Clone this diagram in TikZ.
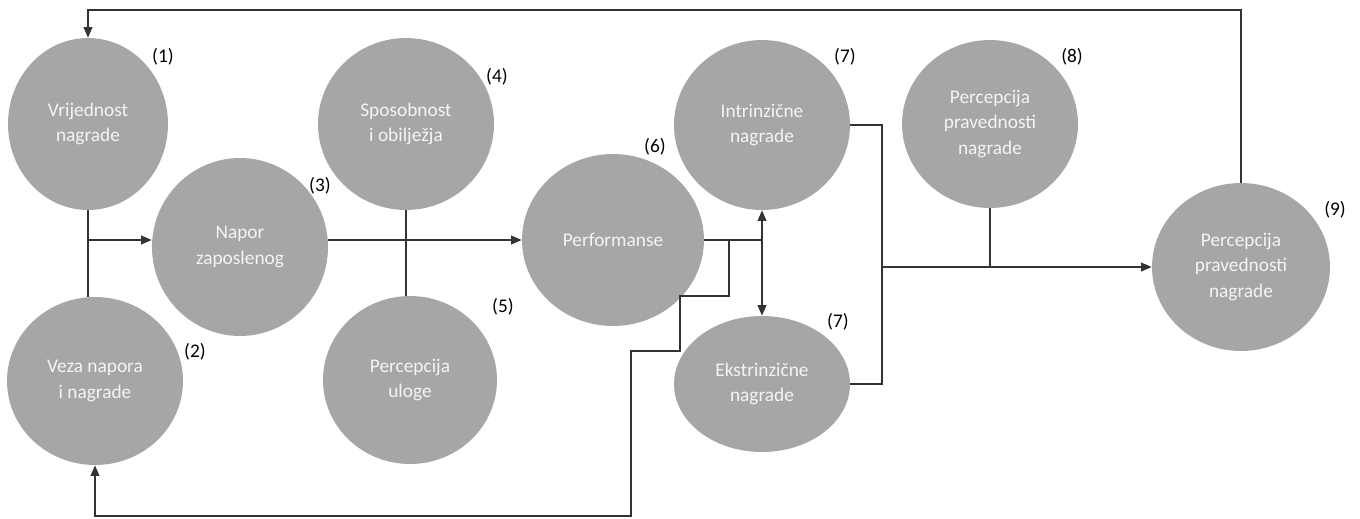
\documentclass[tikz,border=0pt]{standalone}
\usepackage{fontspec}
\setmainfont{Carlito}
\usetikzlibrary{arrows.meta,shapes.geometric,positioning}
\definecolor{krugsiva}{HTML}{A6A6A6}
\definecolor{krugtekst}{HTML}{F4F4F4}

\begin{document}
\begin{tikzpicture}[x=0.02cm,y=-0.02cm,
        krug/.style={ellipse,fill=krugsiva,text=krugtekst,align=center,inner sep=0pt,
            minimum width=3.52cm,minimum height=3.4cm,font=\fontsize{11}{14.5}\selectfont},
        broj/.style={font=\fontsize{11}{13}\selectfont,text=black},
        linija/.style={draw=black!80,line width=0.7pt},
        >={Triangle[length=6pt,width=5pt]}]
    \useasboundingbox (0,0) rectangle (1360,518);

    \node[krug,minimum width=3.2cm,minimum height=3.44cm] (vrij) at (88,124) {Vrijednost\\nagrade};
    \node[krug,minimum height=3.36cm] (veza) at (95,381) {Veza napora\\i nagrade};
    \node[krug,minimum height=3.56cm] (napor) at (240,247) {Napor\\zaposlenog};
    \node[krug,minimum height=3.44cm] (spos) at (406,124) {Sposobnost\\i obilježja};
    \node[krug,minimum width=3.48cm,minimum height=3.36cm] (uloga) at (410,380) {Percepcija\\uloge};
    \node[krug,minimum width=3.64cm,minimum height=3.44cm] (perf) at (613,240) {Performanse};
    \node[krug] (intr) at (762,125) {Intrinzične\\nagrade};
    \node[krug,minimum height=2.72cm] (ekst) at (762,384) {Ekstrinzične\\nagrade};
    \node[krug,minimum height=3.36cm] (pp8) at (990,124) {Percepcija\\pravednosti\\nagrade};
    \node[krug,minimum width=3.56cm,minimum height=3.36cm] (pp9) at (1241,267) {Percepcija\\pravednosti\\nagrade};

    % brojevi
    \node[broj] (b1) at (163,57) {(1)};
    \node[broj] (b2) at (195,352) {(2)};
    \node[broj] (b3) at (320,186) {(3)};
    \node[broj] (b4) at (497,77) {(4)};
    \node[broj] (b5) at (503,307) {(5)};
    \node[broj] (b6) at (655,147) {(6)};
    \node[broj] (b7a) at (845,57) {(7)};
    \node[broj] (b7b) at (838,322) {(7)};
    \node[broj] (b8) at (1072,57) {(8)};
    \node[broj] (b9) at (1335,210) {(9)};

    % tocke loma
    \coordinate (vrh) at (1241,10);
    \coordinate (j1) at (vrij.south |- 0,240);
    \coordinate (j2) at (intr.south |- perf.east);
    \coordinate (j3) at (729,240);
    \coordinate (k1) at (680,296);
    \coordinate (k2) at (631,351);
    \coordinate (k3) at (631,516);
    \coordinate (j4) at (882,267);

    \path[linija]
        (vrij.south) edge (vrij.south |- veza.north)
        (spos.south) edge (spos.south |- uloga.north)
        (perf.east) edge (j2)
        (pp8.south) edge (pp8.south |- j4);
    \draw[linija,->] (pp9.north) |- (vrij.north |- vrh) -- (vrij.north);
    \draw[linija,->] (j1) -- (napor.west |- j1);
    \draw[linija,->] (napor.east |- perf.west) -- (perf.west);
    \draw[linija,<->] (intr.south) -- (ekst.north);
    \draw[linija,->] (j3) |- (k1) |- (k2) -- (k3) -| (veza.south);
    \draw[linija] (intr.east) -| (ekst.east -| j4) -- (ekst.east);
    \draw[linija,->] (j4) -- (pp9.west |- j4);
\end{tikzpicture}
\end{document}
